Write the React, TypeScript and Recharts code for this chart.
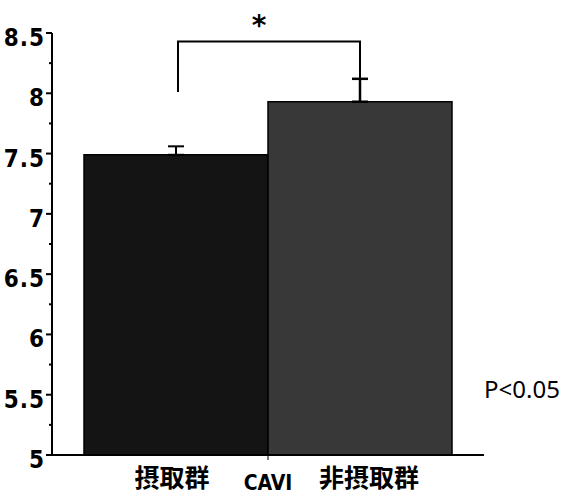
import { BarChart, Bar, XAxis, YAxis, ErrorBar, LabelList } from "recharts";

const categories = ["CAVI"];
const seriesNames = ["摂取群", "非摂取群"];
const intakeValues = [7.49];
const nonIntakeValues = [7.93];
const intakeErrors = [0.07];
const nonIntakeErrors = [0.19];
const yTicks = [5, 5.25, 5.5, 5.75, 6, 6.25, 6.5, 6.75, 7, 7.25, 7.5, 7.75, 8, 8.25, 8.5];
// bracket: top level, left end, right end
const bracketLevels = [8.43, 8.01, 8.12];
const starLabel = "*";
const pValueLabel = "P<0.05";

const data = categories.map((name, i) => ({
	name,
	intake: intakeValues[i],
	nonIntake: nonIntakeValues[i],
	intakeErr: [0, intakeErrors[i]],
	nonIntakeErr: [0, nonIntakeErrors[i]],
}));

const numFont = "'DejaVu Sans Condensed', 'DejaVu Sans', sans-serif";
const jpFont = "'Noto Sans CJK JP', sans-serif";

const YTick = (props: any) => {
	const { x, y, payload } = props;
	const v = payload.value as number;
	const major = Math.abs(v * 2 - Math.round(v * 2)) < 1e-6;
	return (
		<g>
			<line x1={major ? x : x + 3} x2={x + 6} y1={y} y2={y} stroke="#000" strokeWidth={2} />
			{major && (
				<text
					x={x - 1}
					y={y + 13}
					textAnchor="end"
					fontFamily={numFont}
					fontWeight="bold"
					fontSize={24}
					letterSpacing={1}
					fill="#000"
					style={{ fontStretch: "condensed" }}
				>
					{String(v)}
				</text>
			)}
		</g>
	);
};

const XTick = (props: any) => {
	const { x, y, payload } = props;
	return (
		<text
			x={x}
			y={y + 30}
			textAnchor="middle"
			fontFamily={numFont}
			fontWeight="bold"
			fontSize={21}
			fill="#000"
			style={{ fontStretch: "condensed" }}
		>
			{payload.value}
		</text>
	);
};

const box = (props: any) => {
	const vb = props.viewBox ?? {};
	return {
		x: Number(vb.x ?? props.x),
		y: Number(vb.y ?? props.y),
		width: Number(vb.width ?? props.width),
		height: Number(vb.height ?? props.height),
	};
};

const SeriesName = (idx: number) => (props: any) => {
	const { x, y, width, height } = box(props);
	return (
		<text
			x={x + width / 2 - 4}
			y={y + height + 32}
			textAnchor="middle"
			fontFamily={jpFont}
			fontWeight="bold"
			fontSize={25}
			fill="#000"
		>
			{seriesNames[idx]}
		</text>
	);
};

// bracket drawn from the second bar's geometry (bars sit side by side)
const Bracket = (props: any) => {
	const { x, y, width, height } = box(props);
	const value = Number(props.value);
	const base = y + height;
	const per = height / (value - 5);
	const yOf = (v: number) => base - (v - 5) * per;
	const xl = x - width / 2 + 2;
	const xr = x + width / 2;
	const [top, left, right] = bracketLevels;
	return (
		<g>
			<path
				d={`M${xl},${yOf(left)} V${yOf(top)} H${xr} V${yOf(right)}`}
				fill="none"
				stroke="#000"
				strokeWidth={2}
			/>
			<text
				x={(xl + xr) / 2 - 10}
				y={yOf(top) - 6}
				textAnchor="middle"
				fontFamily="'DejaVu Sans', sans-serif"
				fontWeight="bold"
				fontSize={28}
				fill="#000"
			>
				{starLabel}
			</text>
			<text
				x={x + width / 2 + 9}
				y={y + height + 32}
				textAnchor="middle"
				fontFamily={jpFont}
				fontWeight="bold"
				fontSize={25}
				fill="#000"
			>
				{seriesNames[1]}
			</text>
		</g>
	);
};

export default function App() {
	return (
		<div style={{ position: "absolute", left: 0, top: 0, width: 563, height: 495, background: "#fff" }}>
			<BarChart
				width={563}
				height={495}
				data={data}
				margin={{ top: 33, right: 79, bottom: 0, left: 0 }}
				barGap={0}
				barCategoryGap={32}
			>
				<XAxis
					dataKey="name"
					height={40}
					axisLine={{ stroke: "#000", strokeWidth: 2 }}
					tickLine={{ stroke: "#000", strokeWidth: 1 }}
					tickSize={5}
					tickMargin={0}
					tick={XTick}
				/>
				<YAxis
					width={52}
					domain={[5, 8.5]}
					ticks={yTicks}
					interval={0}
					axisLine={{ stroke: "#000", strokeWidth: 2 }}
					tickLine={false}
					tickSize={6}
					tickMargin={0}
					tick={YTick}
				/>
				<Bar dataKey="intake" fill="#141414" stroke="#000" strokeWidth={1.5} isAnimationActive={false}>
					<ErrorBar dataKey="intakeErr" width={8} stroke="#000" strokeWidth={2} isAnimationActive={false} />
					<LabelList dataKey="intake" content={SeriesName(0)} />
				</Bar>
				<Bar dataKey="nonIntake" fill="#383838" stroke="#000" strokeWidth={1.5} isAnimationActive={false}>
					<ErrorBar dataKey="nonIntakeErr" width={8} stroke="#000" strokeWidth={2.5} isAnimationActive={false} />
					<LabelList dataKey="nonIntake" content={Bracket} />
				</Bar>
			</BarChart>
			<svg width={563} height={495} style={{ position: "absolute", left: 0, top: 0, pointerEvents: "none" }}>
				<text x={484} y={398} fontFamily="'Noto Sans', sans-serif" fontSize={24} fill="#000">
					{pValueLabel}
				</text>
			</svg>
		</div>
	);
}
